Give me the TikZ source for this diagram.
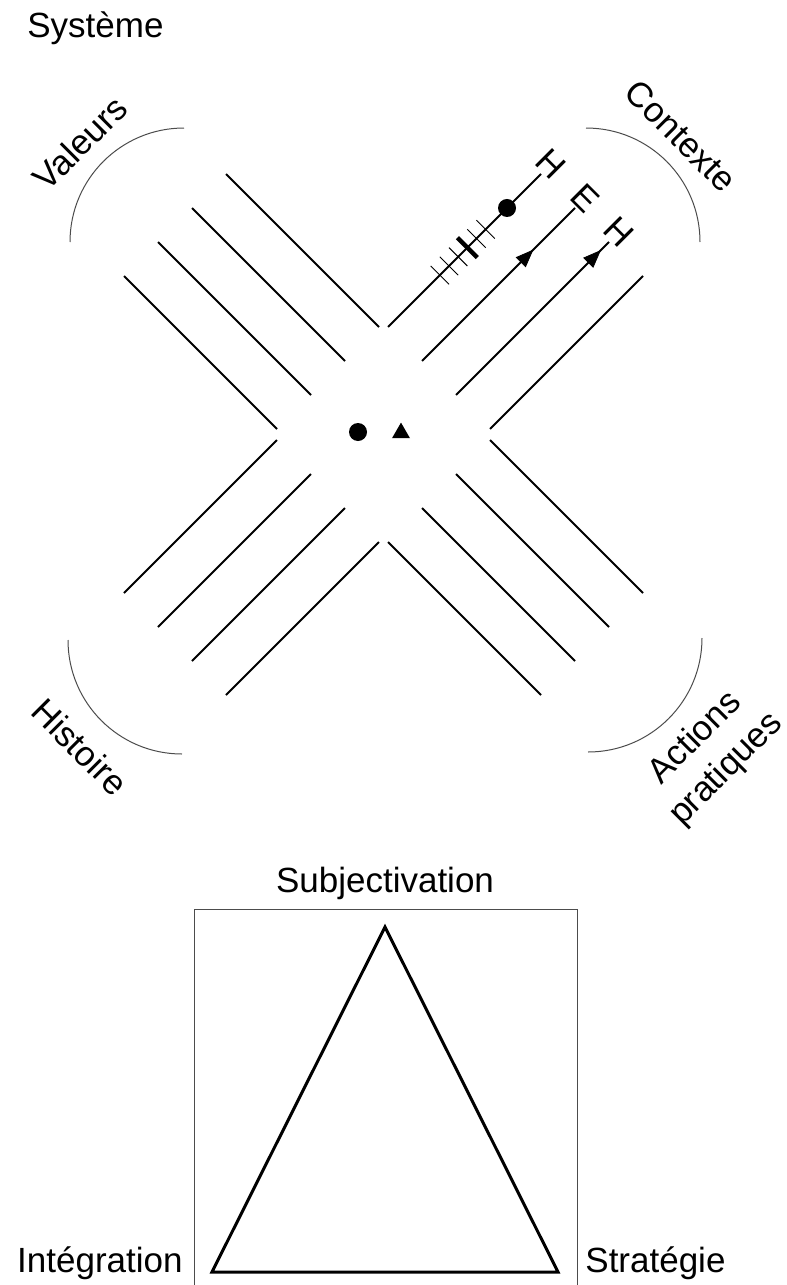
\documentclass[tikz,border=0pt]{standalone}
\usepackage{fontspec}
\setmainfont{Liberation Sans}
\usepackage{tikz}
\usetikzlibrary{arrows.meta, calc, decorations.markings, shapes.geometric}

\tikzset{
	armline/.style={line width=1pt},
	cornerarc/.style={line width=0.5pt, black!70},
	lbl/.style={font=\fontsize{17.5}{22}\selectfont, inner sep=0pt},
	thintick/.style={line width=0.45pt},
	thicktick/.style={line width=2.2pt},
	flowtip/.style={decorate, decoration={markings, mark=at position #1 with {\arrow{Triangle[length=9pt,width=7pt]}}}}
}

\begin{document}
\begin{tikzpicture}[x=0.5pt, y=-0.5pt]
		\useasboundingbox (0,0) rectangle (787,1285);
		% Title
		\node[lbl, anchor=base west] (systeme) at (27,37) {Système};

		% Four arms of the cross, four parallel lines each
		\coordinate (c) at (383.5,434.5);
		\foreach \k/\sx/\sy in {tl/-1/-1, tr/1/-1, br/1/1, bl/-1/1}{
			\foreach \i in {0,...,3}{
				\coordinate (in-\k\i) at ($(c)+({\sx*(4.5+34*\i)},{\sy*(107.5-34*\i)})$);
				\coordinate (out-\k\i) at ($(in-\k\i)+({\sx*153},{\sy*153})$);
				\draw[armline] (in-\k\i) -- (out-\k\i);
			}
		}

		% Marks on the upper right arm: ticks and dot
		\path[decorate, decoration={markings,
			mark=at position 0.34 with {\draw[thintick] (0,-6.5pt) -- (0,6.5pt);},
			mark=at position 0.40 with {\draw[thintick] (0,-6.5pt) -- (0,6.5pt);},
			mark=at position 0.46 with {\draw[thintick] (0,-6.5pt) -- (0,6.5pt);},
			mark=at position 0.52 with {\draw[thicktick] (0,-7pt) -- (0,7pt);},
			mark=at position 0.58 with {\draw[thintick] (0,-6.5pt) -- (0,6.5pt);},
			mark=at position 0.64 with {\draw[thintick] (0,-6.5pt) -- (0,6.5pt);},
			mark=at position 0.78 with {\fill (0,0) circle (4.5pt);}}] (in-tr0) -- (out-tr0);
		% Arrows on the next two lines
		\path[flowtip=0.73] (in-tr1) -- (out-tr1);
		\path[flowtip=0.95] (in-tr2) -- (out-tr2);

		% Letters at the line ends
		\node[lbl, rotate=-45, anchor=south, inner sep=1pt] (hone) at (out-tr0) {H};
		\node[lbl, rotate=-45, anchor=south, inner sep=1pt] (eone) at (out-tr1) {E};
		\node[lbl, rotate=-45, anchor=south, inner sep=1pt] (htwo) at (out-tr2) {H};

		% Centre: dot and triangle
		\node[circle, fill, minimum size=9pt, inner sep=0pt] (cdot) at (358,432) {};
		\node[regular polygon, regular polygon sides=3, fill, minimum size=10.4pt, inner sep=0pt] (ctri) at (401,433) {};

		% Corner arcs
		\draw[cornerarc] (70,242) arc[start angle=180, end angle=270, radius=114];
		\draw[cornerarc] (586,128) arc[start angle=270, end angle=360, radius=114];
		\draw[cornerarc] (702,638) arc[start angle=0, end angle=90, radius=114];
		\draw[cornerarc] (182,754) arc[start angle=90, end angle=180, radius=114];

		% Corner labels
		\node[lbl, rotate=45] (valeurs) at (80,143) {Valeurs};
		\node[lbl, rotate=-45] (contexte) at (681,136) {Contexte};
		\node[lbl, rotate=-45] (histoire) at (80,747) {Histoire};
		\node[lbl, rotate=45, align=center] (actions) at (711,754) {Actions\\pratiques};

		% Triangle in its frame
		\draw[line width=0.5pt, black!70] (194,909) rectangle (577,1290);
		\coordinate (top) at (385,927);
		\coordinate (left) at (212,1272);
		\coordinate (right) at (558,1272);
		\draw[line width=1.5pt] (top) -- (left) -- (right) -- cycle;
		\node[lbl, anchor=base] (subj) at (385,892) {Subjectivation};
		\node[lbl, anchor=base east] (integ) at (183,1272) {Intégration};
		\node[lbl, anchor=base west] (strat) at (585,1272) {Stratégie};
	\end{tikzpicture}
\end{document}
